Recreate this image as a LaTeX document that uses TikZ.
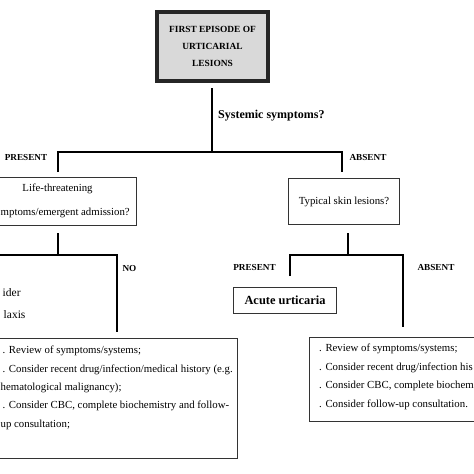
\documentclass[tikz,border=0pt]{standalone}
\usepackage{fontspec}
\setmainfont{Liberation Serif}
\begin{document}
\begin{tikzpicture}[x=1pt,y=-1pt,
  conn/.style={line width=2.6pt, black},
  box/.style={draw=black!80, line width=1.3pt, fill=white, inner sep=0pt},
  topbox/.style={draw=black!85, line width=4pt, fill=black!15, inner sep=0pt, align=center,
    font=\bfseries\fontsize{9.4}{17}\selectfont},
  lbl/.style={font=\bfseries\fontsize{9.2}{11}\selectfont, inner sep=0pt},
  qlbl/.style={font=\bfseries\fontsize{12}{14}\selectfont, inner sep=0pt},
  body/.style={font=\fontsize{10.8}{13}\selectfont, inner sep=0pt},
  bigbody/.style={font=\fontsize{11.5}{14}\selectfont, inner sep=0pt},
]
\useasboundingbox (0,0) rectangle (474,474);
\fill[white] (0,0) rectangle (474,474);

% top box
\node[topbox, minimum width=111pt, minimum height=69pt] (top) at (212.5,46.5)
  {FIRST EPISODE OF\\URTICARIAL\\LESIONS};
\node[qlbl, anchor=west] (sys) at (218,116) {Systemic symptoms?};

% first split
\coordinate (a0) at (212,88);
\coordinate (a1) at (212,152);
\coordinate (a4) at (58,172);
\coordinate (a5) at (342,172);
\draw[conn] (a0) -- (a1);
\draw[conn] (a4) |- (a1) -| (a5);
\node[lbl] (pres1) at (26,157) {PRESENT};
\node[lbl] (abs1) at (368,157) {ABSENT};

% left question box
\node[box, minimum width=156.7pt, minimum height=47.7pt] (lt) at (58,201.5) {};
\node[body] (lt1) at (57.5,189) {Life-threatening};
\node[body, anchor=west] (lt2) at (0.5,213) {mptoms/emergent admission?};

% right question box
\node[box, minimum width=110.7pt, minimum height=45.7pt, body] (rt) at (344,201.5) {Typical skin lesions?};

% left tree
\coordinate (c0) at (58,233);
\coordinate (c1) at (58,255);
\coordinate (c2) at (-10,255);
\coordinate (c3) at (117,332);
\draw[conn] (c0) -- (c1);
\draw[conn] (c2) -- (c1) -| (c3);
\node[lbl] (no) at (129.5,268) {NO};
\node[bigbody, anchor=west] (cons) at (2.5,293) {ider};
\node[bigbody, anchor=west] (ana) at (3.5,315) {laxis};

% right tree
\coordinate (b0) at (348,233);
\coordinate (b1) at (348,255);
\coordinate (b2) at (290,276);
\coordinate (b3) at (403,327);
\draw[conn] (b0) -- (b1);
\draw[conn] (b2) |- (b1) -| (b3);
\node[lbl] (pres2) at (254.5,267) {PRESENT};
\node[lbl] (abs2) at (436,267) {ABSENT};

% acute urticaria
\node[box, minimum width=102.7pt, minimum height=25.7pt, font=\bfseries\fontsize{12.4}{14}\selectfont] (acute) at (285,300.5) {Acute urticaria};

% bottom-left box
\node[box, minimum width=246.7pt, minimum height=119.7pt] (bl) at (114,398.5) {};
\node[body, anchor=west] (bl1) at (2.5,351) {. Review of symptoms/systems;};
\node[body, anchor=west] (bl2) at (2.5,369.5) {. Consider recent drug/infection/medical history (e.g.};
\node[body, anchor=west] (bl3) at (0.5,388) {hematological malignancy);};
\node[body, anchor=west] (bl4) at (2.5,406) {. Consider CBC, complete biochemistry and follow-};
\node[body, anchor=west] (bl5) at (0.5,424.5) {up consultation;};

% bottom-right box
\node[box, minimum width=173.7pt, minimum height=83.7pt] (br) at (396.5,379.5) {};
\node[body, anchor=west] (br1) at (319,349) {. Review of symptoms/systems;};
\node[body, anchor=west] (br2) at (319,367.5) {. Consider recent drug/infection his};
\node[body, anchor=west] (br3) at (319,386) {. Consider CBC, complete biochem};
\node[body, anchor=west] (br4) at (319,404.5) {. Consider follow-up consultation.};
\end{tikzpicture}
\end{document}
